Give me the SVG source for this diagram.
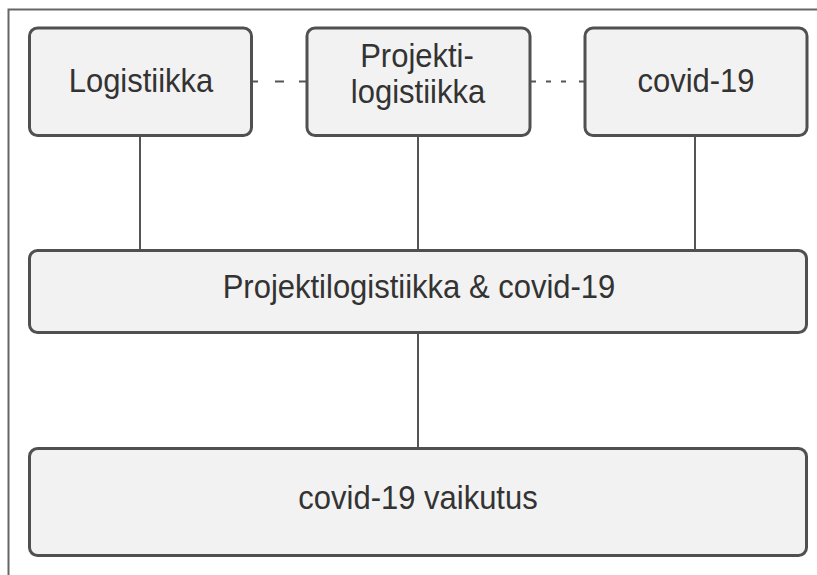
<svg xmlns="http://www.w3.org/2000/svg" width="817" height="575" viewBox="0 0 817 575">
<style>
.box{fill:#f2f2f2;stroke:#505050;stroke-width:3}
.lbl{font-family:"Liberation Sans",Arial,sans-serif;font-size:31px;fill:#333;text-anchor:middle}
.conn{stroke:#555;stroke-width:2;fill:none}
</style>
<rect width="817" height="575" fill="#fff"/>
<path d="M8.5 575V9.5H817" fill="none" stroke="#666" stroke-width="2"/>
<g id="connectors">
<path class="conn" d="M140 136V250M418 136V250M695 136V250M418 333V448"/>
<path class="conn" d="M252 81.5H258M275 81.5H284M299 81.5H307"/>
<path class="conn" d="M530 81.5H536M546 81.5H551M561 81.5H566M579 81.5H585"/>
</g>
<g id="logistiikka"><rect class="box" x="29.5" y="28" width="222" height="107.5" rx="8"/><text class="lbl" transform="translate(141 92) scale(1 1.08)">Logistiikka</text></g>
<g id="projektilogistiikka"><rect class="box" x="307" y="28" width="223" height="107.5" rx="8"/><text class="lbl" transform="translate(417 67) scale(1 1.08)">Projekti-</text><text class="lbl" transform="translate(418 103) scale(1 1.08)">logistiikka</text></g>
<g id="covid19"><rect class="box" x="585" y="28" width="222" height="107.5" rx="8"/><text class="lbl" transform="translate(696 92) scale(1 1.08)">covid-19</text></g>
<g id="projektilogistiikka-covid"><rect class="box" x="29.5" y="250.5" width="777" height="82" rx="8"/><text class="lbl" transform="translate(419 298) scale(1 1.08)">Projektilogistiikka &amp; covid-19</text></g>
<g id="covid-vaikutus"><rect class="box" x="29.5" y="448.5" width="777" height="107" rx="8"/><text class="lbl" transform="translate(418 509) scale(1 1.08)">covid-19 vaikutus</text></g>
</svg>
